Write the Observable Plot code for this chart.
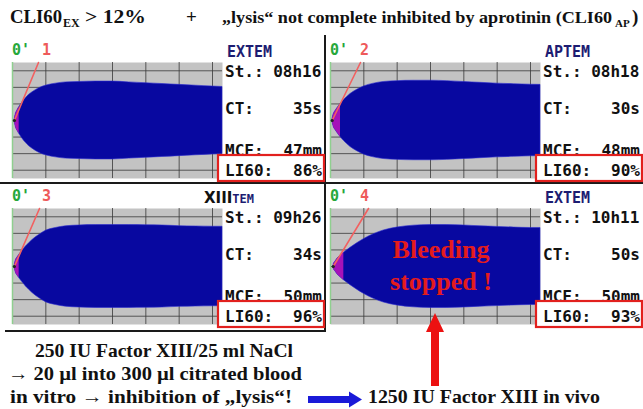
<!DOCTYPE html>
<html>
<head>
<meta charset="utf-8">
<script src="https://cdn.jsdelivr.net/npm/d3@7"></script>
<script src="https://cdn.jsdelivr.net/npm/@observablehq/plot@0.6"></script>
<style>
  html, body { margin: 0; padding: 0; background: #fff; }
  #wrap { position: relative; width: 643px; height: 409px; overflow: hidden; background: #fff; }
  #wrap > svg { position: absolute; }
</style>
</head>
<body>
<div id="wrap"></div>
<script>
// ---------- data ----------
const panelIds   = ["1", "2", "3", "4"];
const testNames  = ["EXTEM", "APTEM", "XIIITEM", "EXTEM"];
const startTimes = ["08h16", "08h18", "09h26", "10h11"];
const ctSeconds  = [35, 30, 34, 50];          // CT (s)
const mcfValues  = [47, 48, 50, 50];          // MCF (mm)
const li60Values = [86, 90, 96, 93];          // LI60 (%)
const cftMinutes = [2, 3, 2, 4];              // end of the magenta (CFT) phase, min
const alphaTopMinutes = [7.8, 9, 8.1, 11.4];  // where the alpha-angle line meets the top, min

// trace: time (min) and clot amplitude (mm)
const traceTime = [1, 1.5, 2, 3, 4, 5, 6, 8, 10, 13, 16, 20, 25, 30, 35, 40, 45, 50, 55, 60, 63];
const amp1 = [8, 12.5, 16, 22, 27, 31, 34, 39, 42, 44.5, 46, 46.5, 47, 47, 46, 45, 44, 43, 42, 41, 40.5];
const amp2 = [8, 11.5, 14.5, 20, 24.5, 28.5, 32, 37, 41, 44.5, 46.5, 47.5, 48, 48, 47.5, 46.5, 45.5, 44.5, 43.8, 43.2, 43];
const amp3 = [7.5, 11, 14, 19, 24, 28, 32, 38, 43, 46.5, 48.5, 49.5, 50, 50, 50, 49.8, 49.5, 48.7, 48.3, 48, 48];
const amp4 = [3, 6, 9, 13, 16.5, 19.5, 22.5, 28, 33, 39, 43.5, 47, 49.3, 50, 50, 49.5, 48.5, 47.8, 47, 46.5, 46.5];
const amplitudes = [amp1, amp2, amp3, amp4];

const timeTicks = [10, 20, 30, 40, 50, 60];
const ampTicks  = [-30, -20, -10, 0, 10, 20, 30];

const titleLeft  = "CLI60";
const titleSub1  = "EX";
const titleRest1 = "> 12%";
const titlePlus  = "+";
const titleRight = "„lysis“ not complete inhibited by aprotinin (CLI60";
const titleSub2  = "AP";
const titleEnd   = ")";
const footerLeft = ["250 IU Factor XIII/25 ml NaCl", "→ 20 µl into 300 µl citrated blood", "in vitro → inhibition of „lysis“!"];
const footerRight = "1250 IU Factor XIII in vivo";
const stampLines = ["Bleeding", "stopped !"];

// ---------- layout ----------
const panelX = [0, 318, 0, 318];
const panelY = [35, 35, 181, 181];
const wrap = document.getElementById("wrap");

const BLUE = "#0808a0", MAGENTA = "#a512b8", GREY = "#c3c3c3";

panelIds.forEach((id, i) => {
  const ct = ctSeconds[i] / 60;
  const trace = [{t: ct, a: 0}].concat(traceTime.map((t, k) => ({t, a: amplitudes[i][k]})));
  const cft = trace.filter(d => d.t <= cftMinutes[i]);
  const svg = Plot.plot({
    width: 230,
    height: i < 2 ? 148 : 149,
    marginLeft: 12, marginRight: 8, marginTop: 27, marginBottom: i < 2 ? 5 : 6,
    x: {domain: [0, 63], axis: null},
    y: {domain: [-35, 35], axis: null},
    style: {background: "transparent", overflow: "visible"},
    marks: [
      Plot.frame({fill: GREY, stroke: null}),
      Plot.ruleX(timeTicks, {stroke: "#3a3a3a", strokeWidth: 1, strokeOpacity: 0.8}),
      Plot.ruleY(ampTicks, {stroke: "#3a3a3a", strokeWidth: 1, strokeOpacity: 0.8}),
      Plot.ruleX([0], {stroke: "#8fcf8f", strokeWidth: 1.5}),
      Plot.areaY(trace, {x: "t", y1: d => -d.a / 2, y2: d => d.a / 2, fill: BLUE, stroke: "#2a2ad0", strokeWidth: 0.6, curve: "monotone-x"}),
      Plot.areaY(cft, {x: "t", y1: d => -d.a / 2, y2: d => d.a / 2, fill: MAGENTA, curve: "monotone-x"}),
      Plot.line([[ct, 0], [alphaTopMinutes[i], 35]], {stroke: "#f26060", strokeWidth: 1.6}),
      Plot.dot([[ct, 0]], {r: 1.6, fill: "#222", stroke: null})
    ]
  });
  svg.style.left = panelX[i] + "px";
  svg.style.top = panelY[i] + "px";
  wrap.appendChild(svg);
});

// ---------- overlay (texts, boxes, dividers, arrows) ----------
const ov = d3.select(wrap).append("svg")
  .attr("width", 643).attr("height", 409)
  .style("left", "0px").style("top", "0px").style("pointer-events", "none");

const MONO = "'DejaVu Sans Mono', monospace";
const SERIF = "'Liberation Serif', 'Times New Roman', serif";

// dividers
ov.append("line").attr("x1", 325).attr("x2", 325).attr("y1", 35).attr("y2", 332).attr("stroke", "#1a1a1a").attr("stroke-width", 2);
ov.append("line").attr("x1", 0).attr("x2", 643).attr("y1", 183).attr("y2", 183).attr("stroke", "#1a1a1a").attr("stroke-width", 2);
ov.append("line").attr("x1", 5).attr("x2", 325).attr("y1", 331).attr("y2", 331).attr("stroke", "#1a1a1a").attr("stroke-width", 2);

panelIds.forEach((id, i) => {
  const dx = panelX[i], dy = panelY[i] - 35;
  const g = ov.append("g").attr("transform", `translate(${dx},${dy})`)
    .attr("font-family", MONO).attr("font-weight", "bold");
  g.append("text").attr("x", 12).attr("y", 55).attr("font-size", 15).attr("fill", "#26a83a").text("0'");
  g.append("text").attr("x", 42).attr("y", 55).attr("font-size", 15).attr("fill", "#ee5a5a").text(id);
  if (testNames[i] === "XIIITEM") {
    const t = g.append("text").attr("x", 204).attr("y", 57);
    t.append("tspan").attr("font-family", "'DejaVu Sans', sans-serif").attr("font-size", 15).attr("fill", "#111").text("XIII");
    t.append("tspan").attr("font-size", 12).attr("fill", "#1c1c72").text("TEM");
  } else {
    g.append("text").attr("x", 227).attr("y", 57).attr("font-size", 15).attr("fill", "#1c1c72").text(testNames[i]);
  }
  g.append("text").attr("x", 225).attr("y", 77).attr("font-size", 16).attr("fill", "#111").text("St.: " + startTimes[i]);
  g.append("text").attr("x", 225).attr("y", 114).attr("font-size", 16).attr("fill", "#111").text("CT:");
  g.append("text").attr("x", 322).attr("y", 114).attr("font-size", 16).attr("fill", "#111").attr("text-anchor", "end").text(ctSeconds[i] + "s");
  g.append("text").attr("x", 225).attr("y", 156).attr("font-size", 16).attr("fill", "#111").text("MCF:");
  g.append("text").attr("x", 322).attr("y", 156).attr("font-size", 16).attr("fill", "#111").attr("text-anchor", "end").text(mcfValues[i] + "mm");
  g.append("rect").attr("x", 218).attr("y", 155).attr("width", 106).attr("height", 26)
    .attr("fill", "#fff").attr("stroke", "#e2201e").attr("stroke-width", 2.2);
  g.append("text").attr("x", 225).attr("y", 176).attr("font-size", 16).attr("fill", "#111").text("LI60:");
  g.append("text").attr("x", 322).attr("y", 176).attr("font-size", 16).attr("fill", "#111").attr("text-anchor", "end").text(li60Values[i] + "%");
});

// title (separate pieces, so the subscripts never collide)
const tg = ov.append("g").attr("font-family", SERIF).attr("font-weight", "bold").attr("font-size", 19).attr("fill", "#111");
tg.append("text").attr("x", 10).attr("y", 23).attr("textLength", 52).attr("lengthAdjust", "spacingAndGlyphs").text(titleLeft);
tg.append("text").attr("x", 63).attr("y", 27).attr("font-size", 12).text(titleSub1);
tg.append("text").attr("x", 85).attr("y", 23).attr("textLength", 61).attr("lengthAdjust", "spacingAndGlyphs").text(titleRest1);
tg.append("text").attr("x", 186).attr("y", 23).text(titlePlus);
tg.append("text").attr("x", 222).attr("y", 23).attr("font-size", 17.6).attr("textLength", 390).attr("lengthAdjust", "spacingAndGlyphs").text(titleRight);
tg.append("text").attr("x", 615).attr("y", 27).attr("font-size", 11).text(titleSub2);
tg.append("text").attr("x", 632).attr("y", 23).text(titleEnd);

// stamp on panel 4
const st = ov.append("g").attr("font-family", SERIF).attr("font-weight", "bold").attr("font-size", 26)
  .attr("fill", "#e41c1c").attr("text-anchor", "middle");
st.append("text").attr("x", 441).attr("y", 258).text(stampLines[0]);
st.append("text").attr("x", 441).attr("y", 290).text(stampLines[1]);

// red arrow
ov.append("path").attr("d", "M435,313 L444,332 L439,332 L439,386 L431,386 L431,332 L426,332 Z").attr("fill", "#ec1111");

// footer
const fg = ov.append("g").attr("font-family", SERIF).attr("font-weight", "bold").attr("font-size", 19).attr("fill", "#111");
fg.append("text").attr("x", 35).attr("y", 357).attr("textLength", 258).attr("lengthAdjust", "spacingAndGlyphs").text(footerLeft[0]);
fg.append("text").attr("x", 8).attr("y", 380).attr("textLength", 294).attr("lengthAdjust", "spacingAndGlyphs").text(footerLeft[1]);
fg.append("text").attr("x", 10).attr("y", 403).attr("textLength", 282).attr("lengthAdjust", "spacingAndGlyphs").text(footerLeft[2]);
fg.append("text").attr("x", 368).attr("y", 403).attr("textLength", 232).attr("lengthAdjust", "spacingAndGlyphs").text(footerRight);

// blue arrow
ov.append("path").attr("d", "M308,396 L349,396 L349,391.5 L362,399.5 L349,407.5 L349,403 L308,403 Z").attr("fill", "#1a1ad8");
</script>
</body>
</html>
